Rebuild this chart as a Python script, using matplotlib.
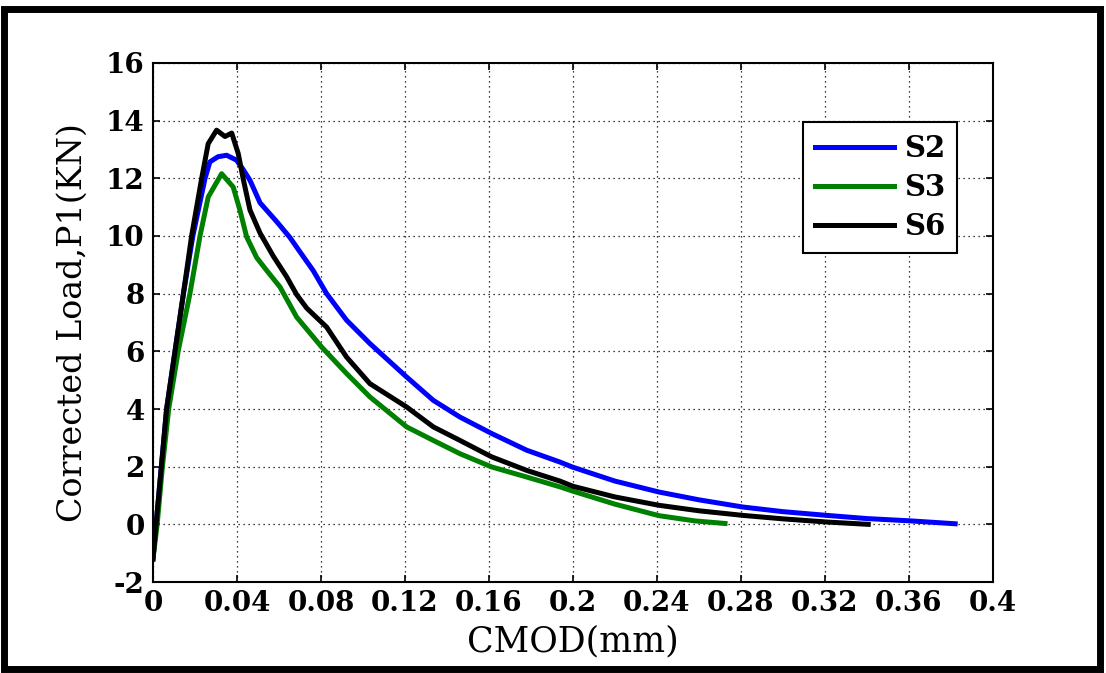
import numpy as np
import matplotlib.pyplot as plt
from matplotlib.patches import Rectangle

# CMOD (mm) and corrected load (kN)
s2_x = [0.0, 0.0015, 0.004, 0.0065, 0.0105, 0.0145, 0.019, 0.0248, 0.0271, 0.031, 0.0351,
        0.0398, 0.043, 0.0462, 0.051, 0.0589, 0.0652, 0.07, 0.0763, 0.0827, 0.0922,
        0.1033, 0.1208, 0.1335, 0.1462, 0.1613, 0.178, 0.1938, 0.2, 0.22, 0.241,
        0.26, 0.281, 0.30, 0.321, 0.34, 0.3608, 0.382]
s2_y = [-1.2, 0.0, 2.0, 4.0, 6.0, 8.0, 10.0, 12.0, 12.57, 12.75, 12.8,
        12.63, 12.3, 11.93, 11.15, 10.5, 9.95, 9.45, 8.8, 8.0, 7.08,
        6.27, 5.11, 4.3, 3.72, 3.15, 2.57, 2.16, 1.98, 1.5, 1.12,
        0.85, 0.6, 0.44, 0.31, 0.2, 0.12, 0.02]

s3_x = [0.0, 0.002, 0.0045, 0.0075, 0.012, 0.0176, 0.0224, 0.0263, 0.0327, 0.0382,
        0.0414, 0.0446, 0.0494, 0.0541, 0.0605, 0.0684, 0.0803, 0.0922, 0.1033,
        0.1208, 0.1335, 0.1462, 0.1613, 0.178, 0.1938, 0.2, 0.22, 0.241, 0.258, 0.2724]
s3_y = [-1.2, 0.0, 2.0, 4.0, 6.0, 8.0, 10.0, 11.35, 12.16, 11.7,
        10.9, 9.97, 9.25, 8.81, 8.23, 7.19, 6.15, 5.23, 4.42,
        3.38, 2.91, 2.45, 1.99, 1.64, 1.3, 1.15, 0.7, 0.3, 0.12, 0.03]

s6_x = [0.0, 0.0015, 0.004, 0.0065, 0.0105, 0.0145, 0.0184, 0.0232, 0.0263, 0.0303,
        0.0343, 0.0375, 0.0406, 0.043, 0.0462, 0.051, 0.0573, 0.0637, 0.0684, 0.0732,
        0.0827, 0.0922, 0.1033, 0.1208, 0.1335, 0.1462, 0.1613, 0.178, 0.1938, 0.2,
        0.22, 0.241, 0.26, 0.281, 0.30, 0.321, 0.3406]
s6_y = [-1.2, 0.0, 2.0, 4.0, 6.0, 8.0, 10.0, 12.0, 13.2, 13.67,
        13.45, 13.57, 12.86, 11.97, 10.9, 10.1, 9.3, 8.58, 7.97, 7.5,
        6.84, 5.8, 4.88, 4.07, 3.38, 2.91, 2.34, 1.87, 1.5, 1.32,
        0.95, 0.66, 0.47, 0.31, 0.19, 0.08, 0.0]

plt.rcParams['font.family'] = 'DejaVu Serif'
plt.rcParams['axes.unicode_minus'] = False

fig = plt.figure(figsize=(11.06, 6.73), dpi=100)
ax = fig.add_axes([0.1383, 0.1352, 0.7595, 0.7712])

ax.plot(s2_x, s2_y, color='#0000ff', lw=3.6, label='S2')
ax.plot(s3_x, s3_y, color='#008000', lw=3.6, label='S3')
ax.plot(s6_x, s6_y, color='black', lw=3.6, label='S6')

ax.set_xlim(0, 0.4)
ax.set_ylim(-2, 16)
xt = [0, 0.04, 0.08, 0.12, 0.16, 0.2, 0.24, 0.28, 0.32, 0.36, 0.4]
ax.set_xticks(xt)
ax.set_xticklabels(['0', '0.04', '0.08', '0.12', '0.16', '0.2', '0.24', '0.28', '0.32', '0.36', '0.4'])
ax.set_yticks(np.arange(-2, 17, 2))
ax.tick_params(direction='in', top=True, right=True, length=5, width=1.2, pad=6)
for lab in ax.get_xticklabels() + ax.get_yticklabels():
    lab.set_fontsize(20)
    lab.set_fontweight('bold')
ax.grid(True, color='black', linestyle=(0, (1, 3)), linewidth=0.9)
for sp in ax.spines.values():
    sp.set_linewidth(1.5)

ax.set_xlabel('CMOD(mm)', fontsize=25, labelpad=5)
ax.set_ylabel('Corrected Load,P1(KN)', fontsize=24, labelpad=12)

leg = ax.legend(loc='upper right', bbox_to_anchor=(0.957, 0.886), borderaxespad=0,
                fancybox=False, edgecolor='black', framealpha=1,
                prop={'size': 21, 'weight': 'bold'}, handlelength=2.7,
                handletextpad=0.35, labelspacing=0.35, borderpad=0.4)
leg.get_frame().set_linewidth(1.5)

fig.patches.append(Rectangle((0.004, 0.006), 0.991, 0.98, transform=fig.transFigure,
                             fill=False, edgecolor='black', linewidth=5))

plt.savefig('out.png', dpi=100)
